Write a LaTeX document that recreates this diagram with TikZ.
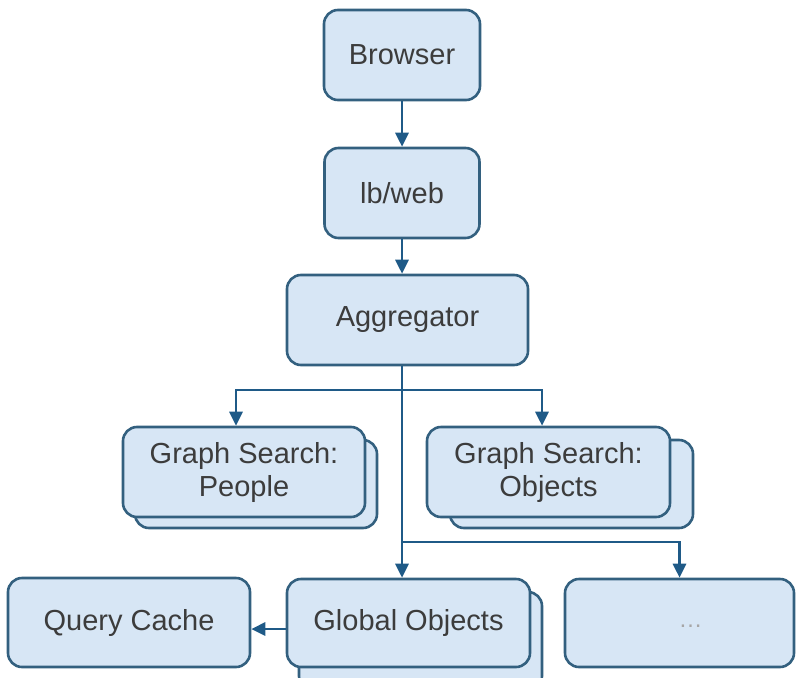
\documentclass[tikz,border=0pt]{standalone}
\usepackage{fontspec}
\setmainfont{Liberation Sans}
\usetikzlibrary{arrows.meta}
\definecolor{boxfill}{HTML}{D7E6F5}
\definecolor{boxline}{HTML}{33607F}
\definecolor{wire}{HTML}{1F5A87}
\definecolor{label}{HTML}{3C3C3C}
\tikzset{
  box/.style={draw=boxline, fill=boxfill, line width=2.6pt, rounded corners=14pt,
    rectangle, align=center, text=label, inner sep=0pt,
    font=\fontsize{29}{33}\selectfont},
  wireline/.style={draw=wire, line width=2.8pt},
  arr/.style={wireline, -{Triangle[length=14pt,width=13pt]}},
}
\begin{document}
\begin{tikzpicture}[x=1pt,y=-1pt]
\useasboundingbox (0,0) rectangle (797,677);

% stacked copies behind the multi-instance services
\node[box, minimum width=242pt, minimum height=88pt] (peopleback) at (256,484) {};
\node[box, minimum width=243pt, minimum height=88pt] (objectsback) at (571.5,484) {};
\node[box, minimum width=243pt, minimum height=98pt] (globback) at (420.5,641) {};

% main boxes
\node[box, minimum width=156pt, minimum height=90pt] (browser) at (402,55) {Browser};
\node[box, minimum width=155pt, minimum height=90pt] (lbweb) at (402,193) {lb/web};
\node[box, minimum width=241pt, minimum height=90pt] (aggr) at (407.5,320) {Aggregator};
\node[box, minimum width=242pt, minimum height=90pt] (people) at (244,472) {Graph Search:\\People};
\node[box, minimum width=243pt, minimum height=90pt] (objects) at (548.5,472) {Graph Search:\\Objects};
\node[box, minimum width=242pt, minimum height=89pt] (qc) at (129,622.5) {Query Cache};
\node[box, minimum width=243pt, minimum height=88pt] (glob) at (408.5,623) {Global Objects};
\node[box, minimum width=229pt, minimum height=88pt, text=gray!70,
  font=\fontsize{24}{28}\selectfont] (dots) at (679.5,623)
  {\hspace*{22pt}\raisebox{-8pt}{\dots}};

% junction points on the aggregator's fan-out line
\coordinate (split) at (402,390);
\coordinate (split2) at (402,542);

% connectors
\draw[arr] (browser) -- (lbweb);
\draw[arr] (lbweb.south) -- (lbweb.south |- aggr.north);
\draw[arr] (lbweb.south |- aggr.south) -- (lbweb.south |- glob.north);
\draw[arr] (split) -| ([xshift=-8pt]people.north);
\draw[arr] (split) -| ([xshift=-6.5pt]objects.north);
\draw[arr] (split2) -| (dots.north);
\draw[arr] ([yshift=-6pt]glob.west) -- ([yshift=-6pt]glob.west -| qc.east);
\end{tikzpicture}
\end{document}
